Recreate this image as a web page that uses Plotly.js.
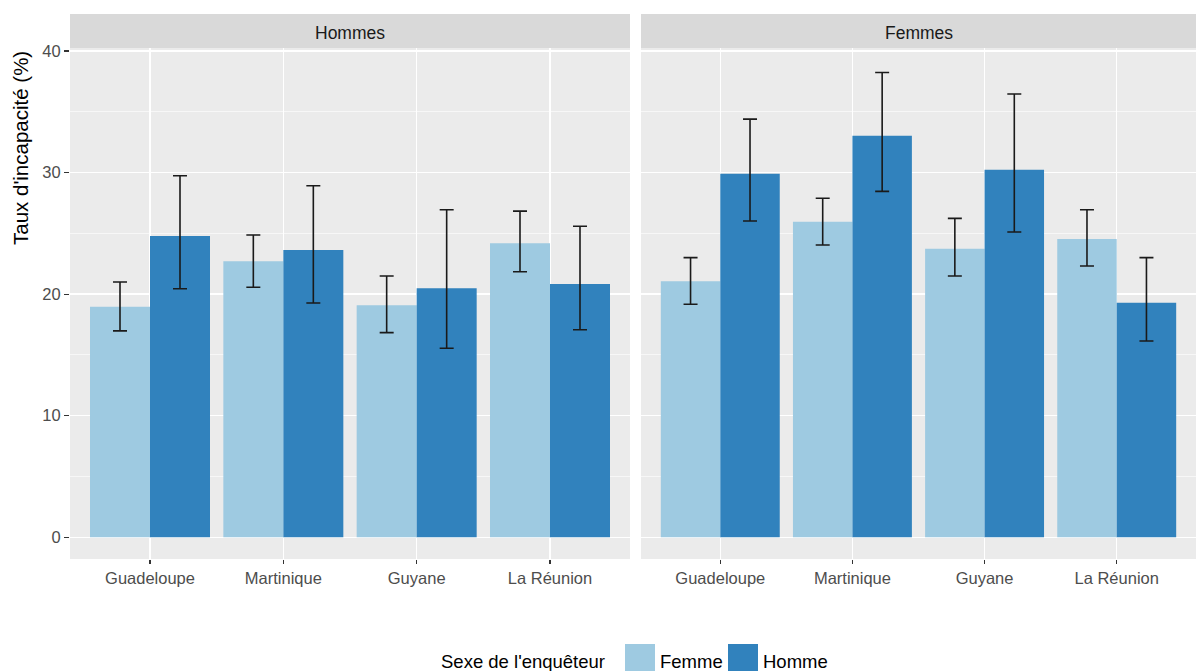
<!DOCTYPE html>
<html><head><meta charset="utf-8">
<script src="https://cdn.plot.ly/plotly-3.0.1.min.js"></script>
<style>html,body{margin:0;padding:0;background:#fff}</style>
</head><body><div id="chart" style="width:1196px;height:671px"></div>
<script>
// ---- data ----
const regions = ["Guadeloupe", "Martinique", "Guyane", "La Réunion"];
const panels = ["Hommes", "Femmes"];
const series = ["Femme", "Homme"];
const legendTitle = "Sexe de l'enquêteur";
const yTitle = "Taux d'incapacité (%)";

// Panel "Hommes"
const hommesFemme   = [18.96, 22.70, 19.08, 24.18];
const hommesFemmeLo = [16.97, 20.56, 16.83, 21.84];
const hommesFemmeHi = [21.00, 24.86, 21.49, 26.83];
const hommesHomme   = [24.78, 23.63, 20.48, 20.83];
const hommesHommeLo = [20.44, 19.27, 15.54, 17.07];
const hommesHommeHi = [29.74, 28.91, 26.94, 25.58];
// Panel "Femmes"
const femmesFemme   = [21.05, 25.95, 23.73, 24.53];
const femmesFemmeLo = [19.16, 24.04, 21.49, 22.31];
const femmesFemmeHi = [23.00, 27.88, 26.23, 26.94];
const femmesHomme   = [29.90, 33.03, 30.23, 19.29];
const femmesHommeLo = [26.01, 28.45, 25.11, 16.14];
const femmesHommeHi = [34.40, 38.24, 36.46, 23.00];

const colors = ["#9ECAE1", "#3182BD"];

// ---- geometry helpers (pixel -> paper) ----
const W = 1196, H = 671;
const px = v => v / W;
const py = v => 1 - v / H;

function bar(vals, lo, hi, i, xa, ya) {
  return {
    type: "bar", x: regions, y: vals, name: series[i],
    xaxis: xa, yaxis: ya, showlegend: false,
    marker: { color: colors[i], line: { width: 0 } },
    error_y: {
      type: "data", symmetric: false,
      array: vals.map((v, k) => hi[k] - v),
      arrayminus: vals.map((v, k) => v - lo[k]),
      color: "#1a1a1a", thickness: 1.6, width: 7
    },
    hoverinfo: "x+y"
  };
}

const data = [
  bar(hommesFemme, hommesFemmeLo, hommesFemmeHi, 0, "x", "y"),
  bar(hommesHomme, hommesHommeLo, hommesHommeHi, 1, "x", "y"),
  bar(femmesFemme, femmesFemmeLo, femmesFemmeHi, 0, "x2", "y2"),
  bar(femmesHomme, femmesHommeLo, femmesHommeHi, 1, "x2", "y2")
];

const font = "Liberation Sans, Arial, sans-serif";
const panelTop = 48, panelBot = 559;
const p1 = [70, 630], p2 = [641, 1196];

function xaxis(dom, anchor) {
  return {
    domain: [px(dom[0]), px(dom[1])], anchor: anchor,
    type: "category", range: [-0.6, 3.6],
    showgrid: true, gridcolor: "#FFFFFF", gridwidth: 1.2,
    ticks: "outside", ticklen: 4, tickwidth: 1.1, tickcolor: "#333333",
    tickfont: { family: font, size: 16.5, color: "#4D4D4D" },
    showline: false, zeroline: false, fixedrange: true
  };
}
function yaxis(anchor, labels) {
  return {
    domain: [py(panelBot), py(panelTop)], anchor: anchor,
    range: [-1.8, 40.25], tickvals: [0, 10, 20, 30, 40],
    showgrid: true, gridcolor: "#FFFFFF", gridwidth: 1.2,
    minor: { tickvals: [5, 15, 25, 35], showgrid: true, gridcolor: "#FFFFFF", gridwidth: 0.6, ticks: "" },
    ticks: labels ? "outside" : "", ticklen: 5, tickwidth: 1.1, tickcolor: "#333333",
    showticklabels: labels,
    tickfont: { family: font, size: 16.5, color: "#4D4D4D" },
    zeroline: false, showline: false, fixedrange: true
  };
}

const shapes = [], annotations = [];
// strips
[p1, p2].forEach((p, i) => {
  shapes.push({ type: "rect", xref: "paper", yref: "paper",
    x0: px(p[0]), x1: px(p[1]), y0: py(panelTop), y1: py(14),
    fillcolor: "#D9D9D9", line: { width: 0 } });
  annotations.push({ xref: "paper", yref: "paper", x: px((p[0] + p[1]) / 2), y: py(33),
    text: panels[i], showarrow: false, xanchor: "center", yanchor: "middle",
    font: { family: font, size: 17.5, color: "#1A1A1A" } });
});
// y title
annotations.push({ xref: "paper", yref: "paper", x: px(20), y: py(148),
  text: yTitle, textangle: -90, showarrow: false, xanchor: "center", yanchor: "middle",
  font: { family: font, size: 20.5, color: "#000000" } });
// legend (manual)
annotations.push({ xref: "paper", yref: "paper", x: px(607), y: py(661),
  text: legendTitle, showarrow: false, xanchor: "right", yanchor: "middle",
  font: { family: font, size: 18.5, color: "#000000" } });
const keyX = [625, 728];
series.forEach((s, i) => {
  shapes.push({ type: "rect", xref: "paper", yref: "paper",
    x0: px(keyX[i]), x1: px(keyX[i] + 30), y0: py(674), y1: py(644),
    fillcolor: colors[i], line: { width: 0 } });
  annotations.push({ xref: "paper", yref: "paper", x: px(keyX[i] + 33), y: py(661),
    text: s, showarrow: false, xanchor: "left", yanchor: "middle",
    font: { family: font, size: 18.5, color: "#000000" } });
});

const layout = {
  width: W, height: H,
  margin: { l: 0, r: 0, t: 0, b: 0 },
  paper_bgcolor: "#FFFFFF", plot_bgcolor: "#EBEBEB",
  barmode: "group", bargap: 0.1, bargroupgap: 0,
  xaxis: xaxis(p1, "y"), xaxis2: xaxis(p2, "y2"),
  yaxis: yaxis("x", true), yaxis2: Object.assign(yaxis("x2", false), { matches: "y" }),
  shapes: shapes, annotations: annotations,
  showlegend: false, font: { family: font }
};

Plotly.newPlot("chart", data, layout, { displayModeBar: false, staticPlot: true });
</script></body></html>
